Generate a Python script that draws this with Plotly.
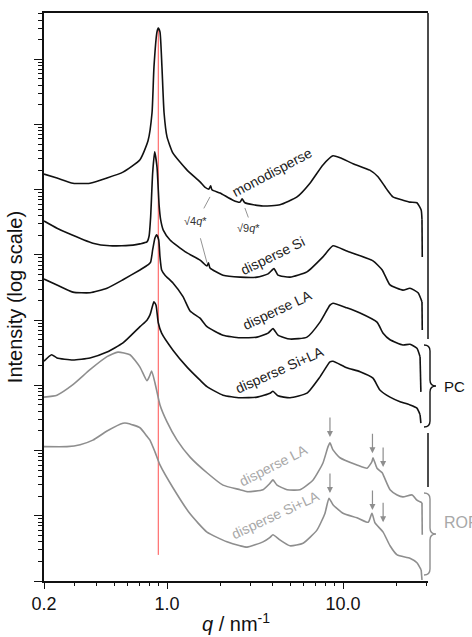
import numpy as np
import plotly.graph_objects as go

# ---------------- data (q in nm^-1, intensity given as log10 of stacked, arbitrary-unit curves) -------------
q_mono = [0.200, 0.237, 0.292, 0.365, 0.456, 0.562, 0.702, 0.780, 0.822, 0.843, 0.877, 0.892, 0.912, 0.936,
          0.962, 1.000, 1.081, 1.300, 1.541, 1.64, 1.73, 1.77, 1.80, 2.00, 2.37, 2.60, 2.67, 2.77, 3.51, 4.38,
          5.48, 6.49, 7.69, 8.77, 9.61, 11.4, 14.2, 15.8, 17.8, 19.2, 21.9, 24.0, 26.3, 27.8, 28.1, 28.2]
logI_mono = [6.24, 6.18, 6.10, 6.10, 6.18, 6.27, 6.46, 6.75, 7.18, 7.88, 8.42, 8.48, 8.42, 7.88,
             7.18, 6.81, 6.56, 6.30, 6.12, 6.04, 6.01, 6.06, 6.00, 5.95, 5.84, 5.81, 5.86, 5.80, 5.75, 5.77,
             5.89, 6.10, 6.38, 6.52, 6.49, 6.40, 6.30, 6.20, 6.00, 5.89, 5.84, 5.81, 5.80, 5.69, 5.54, 4.97]

q_si = [0.200, 0.237, 0.270, 0.379, 0.474, 0.641, 0.702, 0.769, 0.791, 0.807, 0.829, 0.851, 0.877, 0.892,
        0.903, 0.920, 0.952, 1.040, 1.265, 1.541, 1.687, 1.72, 1.755, 2.08, 2.60, 3.25, 3.75, 4.05, 4.27,
        5.00, 6.24, 7.69, 8.77, 10.5, 14.8, 16.7, 18.5, 21.9, 24.0, 26.7, 28.1, 28.2]
logI_si = [5.52, 5.41, 5.34, 5.18, 5.14, 5.15, 5.17, 5.20, 5.29, 5.58, 6.26, 6.58, 6.35, 6.00,
           5.74, 5.54, 5.38, 5.23, 5.05, 4.92, 4.83, 4.88, 4.80, 4.69, 4.66, 4.66, 4.71, 4.79, 4.69,
           4.66, 4.74, 4.97, 5.14, 5.06, 4.91, 4.77, 4.54, 4.46, 4.49, 4.42, 4.28, 3.85]

q_la = [0.200, 0.237, 0.292, 0.365, 0.456, 0.562, 0.702, 0.783, 0.807, 0.829, 0.854, 0.873, 0.897, 0.912,
        0.932, 0.974, 1.081, 1.233, 1.352, 1.541, 1.687, 2.08, 2.60, 3.25, 3.75, 4.00, 4.27, 5.00, 6.24,
        7.40, 8.43, 8.77, 10.5, 12.5, 15.6, 16.9, 18.5, 21.9, 24.0, 26.3, 27.4, 27.7]
logI_la = [4.63, 4.54, 4.43, 4.42, 4.49, 4.62, 4.77, 4.85, 4.89, 5.08, 5.26, 5.31, 5.23, 4.97,
           4.77, 4.69, 4.57, 4.36, 4.14, 4.03, 3.90, 3.77, 3.73, 3.74, 3.80, 3.87, 3.77, 3.71, 3.74,
           3.97, 4.23, 4.26, 4.19, 4.11, 3.97, 3.80, 3.70, 3.62, 3.63, 3.57, 3.44, 2.90]

q_sila = [0.200, 0.221, 0.237, 0.292, 0.365, 0.456, 0.562, 0.702, 0.769, 0.800, 0.822, 0.843, 0.866, 0.892,
          0.932, 1.081, 1.300, 1.541, 1.687, 2.08, 2.60, 3.25, 3.85, 4.00, 4.27, 5.00, 6.24, 7.40, 8.43,
          8.77, 10.5, 12.5, 14.8, 16.2, 18.5, 21.1, 24.0, 26.3, 27.4, 27.7]
logI_sila = [3.37, 3.47, 3.42, 3.39, 3.42, 3.51, 3.65, 3.90, 4.00, 4.08, 4.19, 4.28, 4.23, 3.96,
             3.80, 3.54, 3.28, 3.08, 2.98, 2.85, 2.81, 2.82, 2.88, 2.91, 2.84, 2.81, 2.88, 3.13, 3.36,
             3.37, 3.27, 3.21, 3.11, 2.93, 2.82, 2.75, 2.70, 2.65, 2.55, 2.42]

q_rop_la = [0.200, 0.237, 0.292, 0.365, 0.456, 0.526, 0.616, 0.702, 0.769, 0.795, 0.818, 0.854, 0.912,
            1.000, 1.140, 1.352, 1.687, 2.08, 2.60, 2.85, 3.51, 3.85, 4.00, 4.22, 4.81, 5.70, 6.76, 7.69,
            8.22, 8.43, 8.77, 9.61, 12.0, 13.7, 14.6, 14.8, 15.6, 16.7, 17.1, 18.5, 20.3, 21.9, 24.7,
            26.3, 28.1, 28.2]
logI_rop_la = [2.82, 2.85, 3.01, 3.24, 3.44, 3.51, 3.47, 3.28, 3.07, 3.14, 3.22, 3.04, 2.70,
               2.44, 2.16, 1.90, 1.66, 1.47, 1.40, 1.37, 1.40, 1.50, 1.55, 1.47, 1.40, 1.40, 1.55, 1.81,
               2.06, 2.12, 2.01, 1.89, 1.78, 1.73, 1.83, 1.89, 1.73, 1.66, 1.60, 1.40, 1.32, 1.29, 1.32,
               1.24, 1.20, 0.71]

q_rop_sila = [0.200, 0.270, 0.321, 0.379, 0.456, 0.562, 0.593, 0.702, 0.769, 0.800, 0.854, 0.912, 1.081,
              1.352, 1.687, 2.19, 2.60, 2.85, 3.51, 3.85, 4.00, 4.38, 5.00, 5.93, 7.11, 7.90, 8.32, 8.77,
              10.0, 12.0, 13.9, 14.6, 15.2, 16.9, 18.5, 20.3, 24.0, 26.3, 27.8, 28.1]
logI_rop_sila = [2.06, 2.06, 2.09, 2.16, 2.30, 2.42, 2.42, 2.35, 2.22, 2.16, 1.98, 1.78, 1.43,
                 1.03, 0.75, 0.60, 0.54, 0.52, 0.60, 0.67, 0.71, 0.63, 0.54, 0.58, 0.78, 1.04, 1.27, 1.17,
                 1.04, 0.97, 0.90, 1.04, 0.89, 0.75, 0.54, 0.40, 0.35, 0.28, 0.17, 0.015]

q_star = 0.892                      # first-order peak (red reference line)
red_line_logI = [0.40, 8.45]

arrow_q = [8.43, 14.7, 16.9]        # ROP reflections marked with arrows
arrow_tip_la = [2.21, 1.96, 1.75]
arrow_tip_sila = [1.35, 1.09, 0.90]

labels = ["monodisperse", "disperse Si", "disperse LA", "disperse Si+LA", "disperse LA", "disperse Si+LA"]
label_q = [3.97, 3.95, 4.22, 4.33, 4.05, 4.11]
label_logI = [6.27, 4.99, 4.16, 3.24, 1.78, 1.01]
label_angle = [-28, -26, -25, -24, -27, -25]

x_tickvals = [0.2, 1.0, 10.0]
x_ticktext = ["0.2", "1.0", "10.0"]

# ---------------- style ----------------
BLACK = "#111111"
GRAY = "#8e8e8e"
LGRAY = "#a8a8a8"
FONT = "Liberation Sans, Arial, sans-serif"

series = [
    (q_mono, logI_mono, BLACK),
    (q_si, logI_si, BLACK),
    (q_la, logI_la, BLACK),
    (q_sila, logI_sila, BLACK),
    (q_rop_la, logI_rop_la, GRAY),
    (q_rop_sila, logI_rop_sila, GRAY),
]
label_colors = ["#222", "#222", "#222", "#222", LGRAY, LGRAY]

fig = go.Figure()

fig.add_trace(go.Scatter(x=[q_star, q_star], y=10 ** np.array(red_line_logI), mode="lines",
                         line=dict(color="#ff5050", width=1), hoverinfo="skip", showlegend=False))

for q, li, c in series:
    I = 10 ** np.array(li)
    # smooth body of the curve
    fig.add_trace(go.Scatter(x=q[:-1], y=I[:-1], mode="lines",
                             line=dict(color=c, width=1.6, shape="spline", smoothing=0.5),
                             showlegend=False))
    # the steep cut-off at the detector edge
    fig.add_trace(go.Scatter(x=q[-2:], y=I[-2:], mode="lines",
                             line=dict(color=c, width=1.6), showlegend=False))

ann = []
for t, xq, yl, ang, c in zip(labels, label_q, label_logI, label_angle, label_colors):
    ann.append(dict(x=np.log10(xq), y=yl, text=t, textangle=ang, showarrow=False,
                    font=dict(family=FONT, size=14, color=c), xanchor="center", yanchor="middle"))

for tips in (arrow_tip_la, arrow_tip_sila):
    for xq, yl in zip(arrow_q, tips):
        ann.append(dict(x=np.log10(xq), y=yl, text="", showarrow=True, ax=0, ay=-21,
                        arrowhead=2, arrowsize=1, arrowwidth=1.2, arrowcolor=GRAY))

# peak index labels with leader lines
ann.append(dict(x=np.log10(1.46), y=5.52, text="\u221a4<i>q</i>*", showarrow=False,
                font=dict(family=FONT, size=11, color="#333")))
ann.append(dict(x=np.log10(2.92), y=5.41, text="\u221a9<i>q</i>*", showarrow=False,
                font=dict(family=FONT, size=11, color="#333")))
for xq, yl, ax, ay in [(1.755, 5.89, -7, 13), (1.687, 4.88, -7, -26), (2.77, 5.72, 4, 11)]:
    ann.append(dict(x=np.log10(xq), y=yl, text="", showarrow=True, ax=ax, ay=ay,
                    arrowhead=0, arrowwidth=0.8, arrowcolor="#777"))

# group labels
ann.append(dict(x=1.0, xref="paper", y=(581 - 386) / 568, yref="paper", text="PC", showarrow=False,
                xanchor="left", xshift=14, font=dict(family=FONT, size=15, color="#111")))
ann.append(dict(x=1.0, xref="paper", y=(581 - 533) / 568, yref="paper", text="ROP", showarrow=False,
                xanchor="left", xshift=14, font=dict(family=FONT, size=16, color=LGRAY)))


def px(x):
    return (x - 44) / 384


def py(y):
    return (581 - y) / 568


def brace(top, bot, x0, xm, x1, r=6):
    mid = (top + bot) / 2
    return (f"M {px(x0)},{py(top)} Q {px(xm)},{py(top)} {px(xm)},{py(top + r)} "
            f"L {px(xm)},{py(mid - r)} Q {px(xm)},{py(mid)} {px(x1)},{py(mid)} "
            f"Q {px(xm)},{py(mid)} {px(xm)},{py(mid + r)} "
            f"L {px(xm)},{py(bot - r)} Q {px(xm)},{py(bot)} {px(x0)},{py(bot)}")


shapes = [
    dict(type="line", xref="paper", yref="paper", x0=1, x1=1, y0=py(339), y1=1,
         line=dict(color=BLACK, width=1.5)),
    dict(type="line", xref="paper", yref="paper", x0=1, x1=1, y0=py(487), y1=py(433),
         line=dict(color=BLACK, width=1.5)),
    dict(type="path", xref="paper", yref="paper", path=brace(345, 427, 424, 430, 436),
         line=dict(color=BLACK, width=1.4)),
    dict(type="path", xref="paper", yref="paper", path=brace(493, 575, 424, 430, 436),
         line=dict(color=GRAY, width=1.4)),
]

y_major = [10.0 ** k for k in range(9)]
y_minor = [m * 10.0 ** k for k in range(9) for m in range(2, 10) if np.log10(m * 10.0 ** k) < 8.71]
x_minor = [0.3, 0.4, 0.5, 0.6, 0.7, 0.8, 0.9, 2, 3, 4, 5, 6, 7, 8, 9, 20, 30]

fig.update_layout(
    width=472, height=637,
    margin=dict(l=44, r=44, t=13, b=56),
    paper_bgcolor="white", plot_bgcolor="white",
    font=dict(family=FONT, color="#111"),
    showlegend=False,
    annotations=ann,
    shapes=shapes,
    xaxis=dict(type="log", range=[np.log10(0.2), np.log10(30.4)], tickmode="array",
               tickvals=x_tickvals, ticktext=x_ticktext, ticks="outside", ticklen=6, tickwidth=1.3,
               tickcolor=BLACK, showline=True, linecolor=BLACK, linewidth=1.5, mirror=True,
               showgrid=False, zeroline=False, automargin=False,
               tickfont=dict(family=FONT, size=18, color="#111"),
               minor=dict(tickmode="array", tickvals=x_minor, ticks="outside", ticklen=3,
                          tickwidth=1, tickcolor=BLACK, showgrid=False),
               title=dict(text="<i>q</i> / nm<sup>-1</sup>", standoff=4,
                          font=dict(family=FONT, size=20, color="#111"))),
    yaxis=dict(type="log", range=[0, 8.71], tickmode="array", tickvals=y_major, showticklabels=False,
               ticks="outside", ticklen=8, tickwidth=1.3, tickcolor=BLACK, showline=True,
               linecolor=BLACK, linewidth=1.5, mirror=False, showgrid=False, zeroline=False,
               automargin=False,
               minor=dict(tickmode="array", tickvals=y_minor, ticks="outside", ticklen=4,
                          tickwidth=1, tickcolor=BLACK, showgrid=False),
               title=dict(text="Intensity (log scale)", standoff=6,
                          font=dict(family=FONT, size=20, color="#111"))),
)

fig.write_html("out.html", config={"displayModeBar": False},
               post_script="document.body.style.margin='0';document.body.style.overflow='hidden';")
